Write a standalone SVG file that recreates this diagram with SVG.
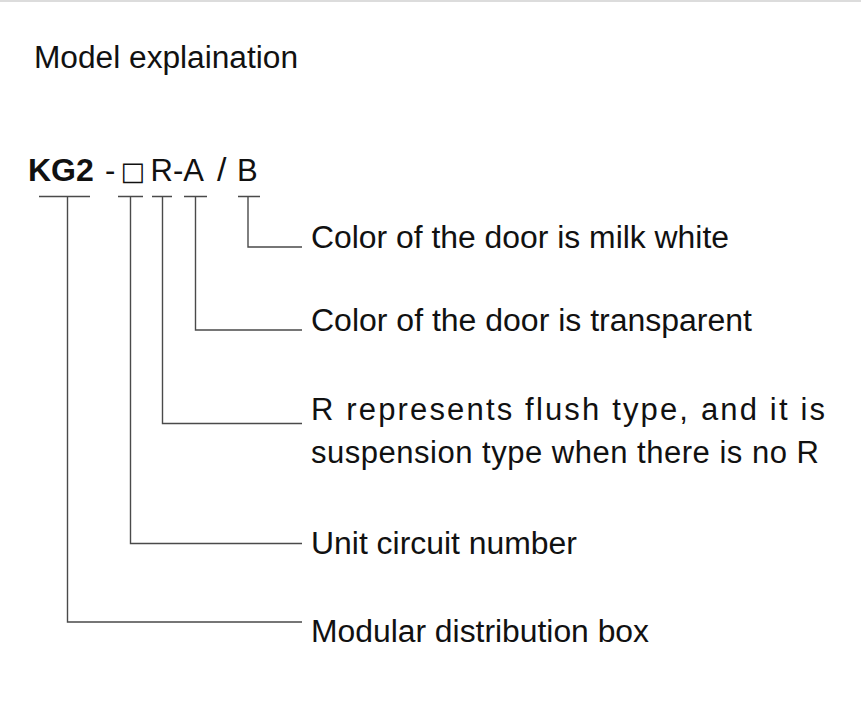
<svg xmlns="http://www.w3.org/2000/svg" width="861" height="711" viewBox="0 0 861 711">
<style>
.t{font-family:"Liberation Sans",Arial,Helvetica,sans-serif;font-size:31px;fill:#111}
.b{font-weight:bold}
.c{fill:none;stroke:#4a4a4a;stroke-width:1.4}
</style>
<rect width="861" height="711" fill="#fff"/>
<line x1="0" y1="1" x2="861" y2="1" stroke="#dcdcdc" stroke-width="2"/>
<g id="title"><text class="t" x="34" y="68" textLength="264" lengthAdjust="spacingAndGlyphs">Model explaination</text></g>
<g id="model">
<text class="t b" x="28" y="181" style="font-size:32px">KG2</text>
<text class="t" x="105" y="181">-</text>
<text x="120.5" y="180" style="font-family:'DejaVu Sans',sans-serif;font-size:26px;fill:#111">□</text>
<text class="t" x="150.5" y="181">R-A</text>
<text class="t" x="217" y="181" style="font-size:34px">/</text>
<text class="t" x="237" y="181">B</text>
</g>
<g id="connectors">
<path class="c" d="M39 196.5H90M67.5 196.5V622H302"/>
<path class="c" d="M118 196.5H143M130.5 196.5V543.5H302"/>
<path class="c" d="M152 196.5H172M162.5 196.5V423.5H302"/>
<path class="c" d="M184 196.5H207M195.5 196.5V330H302"/>
<path class="c" d="M238 196.5H260M248 196.5V247H302"/>
</g>
<g id="n-milk"><text class="t" x="311" y="248" textLength="418" lengthAdjust="spacingAndGlyphs">Color of the door is milk white</text></g>
<g id="n-transparent"><text class="t" x="311" y="331" textLength="441" lengthAdjust="spacingAndGlyphs">Color of the door is transparent</text></g>
<g id="n-flush">
<text class="t" x="311" y="420" textLength="514" lengthAdjust="spacing">R represents flush type, and it is</text>
<text class="t" x="311" y="463" textLength="508" lengthAdjust="spacing">suspension type when there is no R</text>
</g>
<g id="n-unit"><text class="t" x="311" y="554" textLength="266" lengthAdjust="spacingAndGlyphs">Unit circuit number</text></g>
<g id="n-modular"><text class="t" x="311" y="642" textLength="338" lengthAdjust="spacingAndGlyphs">Modular distribution box</text></g>
</svg>
